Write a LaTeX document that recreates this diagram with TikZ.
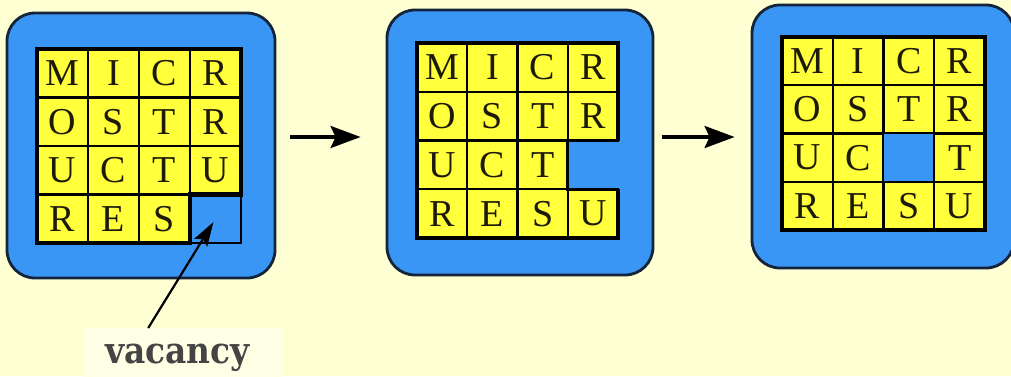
\documentclass[tikz,border=0pt]{standalone}
\usepackage{fontspec}
\newfontfamily\tilefont{Liberation Serif}
\newfontfamily\labelfont{DejaVu Serif Condensed}
\usetikzlibrary{arrows.meta}

\definecolor{paper}{HTML}{FFFFD4}
\definecolor{patch}{HTML}{FFFFE6}
\definecolor{tray}{HTML}{3A96F5}
\definecolor{tileyellow}{HTML}{FFFF3C}
\definecolor{ink}{HTML}{1E1A08}
\definecolor{labelgray}{HTML}{444444}
\definecolor{rim}{HTML}{14243A}

\def\holemark{.}
% #1 name prefix, #2/#3 top-left corner of the grid, #4/#5 cell size, #6 rows
\newcommand\tilegrid[6]{%
  \foreach \tilerow [count=\i from 0] in {#6} {
    \foreach \tileletter [count=\j from 0] in \tilerow {
      \ifx\tileletter\holemark
        \node[hole, minimum width=#4pt, minimum height=#5pt]
          (#1-\i-\j) at ({#2+(\j+0.5)*#4},{#3+(\i+0.5)*#5}) {};
      \else
        \node[tile, minimum width=#4pt, minimum height=#5pt]
          (#1-\i-\j) at ({#2+(\j+0.5)*#4},{#3+(\i+0.5)*#5}) {\tileletter};
      \fi
    }
  }%
}

\begin{document}
\begin{tikzpicture}[x=1pt, y=-1pt,
  trayframe/.style={draw=rim, line width=2.8pt, fill=tray, rounded corners=28pt},
  tile/.style={draw=black, line width=2.2pt, fill=tileyellow, outer sep=0pt,
    inner sep=0pt, text=ink, font=\tilefont\fontsize{38}{38}\selectfont},
  hole/.style={draw=black, line width=1.4pt, fill=tray, outer sep=0pt},
  gridframe/.style={draw=black, line width=4.5pt, line join=miter},
  arr/.style={draw=black, line width=3.5pt, -{Stealth[length=30pt, width=22pt, inset=5pt]}},
  ptr/.style={draw=black, line width=2.2pt, -{Stealth[length=24pt, width=15pt, inset=4pt]}},
  labelbox/.style={fill=patch, text=labelgray, inner xsep=22pt, inner ysep=0pt,
    text height=35pt, text depth=20pt, text width=155pt, align=left,
    font=\labelfont\bfseries\fontsize{36.5}{36.5}\selectfont}]

\useasboundingbox (0,0) rectangle (1011,376);
\clip (0,0) rectangle (1011,376);
\fill[paper] (0,0) rectangle (1011,376);

% trays
\node[trayframe, minimum width=268pt, minimum height=265pt] (p1) at (141,145.5) {};
\node[trayframe, minimum width=266pt, minimum height=265pt] (p2) at (520,142.5) {};
\node[trayframe, minimum width=262pt, minimum height=263pt] (p3) at (883,136.5) {};

% tiles
\tilegrid{A}{37}{49}{51}{48.5}{{M,I,C,R},{O,S,T,R},{U,C,T,U},{R,E,S,.}}
\begin{scope}[hole/.append style={draw=none}]
\tilegrid{B}{417}{43}{50.25}{48.75}{{M,I,C,R},{O,S,T,R},{U,C,T,.},{R,E,S,U}}
\end{scope}
\tilegrid{C}{782}{37}{50.75}{48.25}{{M,I,C,R},{O,S,T,R},{U,C,.,T},{R,E,S,U}}

% heavy outlines around the tiles
\draw[gridframe] (A-0-0.north west) -- (A-0-3.north east) -- (A-2-3.south east)
  -- (A-3-2.north east) -- (A-3-2.south east) -- (A-3-0.south west) -- cycle;
\draw[gridframe] (B-1-3.south east) -- (B-0-3.north east) -- (B-0-0.north west)
  -- (B-3-0.south west) -- (B-3-3.south east) -- (B-3-3.north east);
\draw[line width=3pt] (B-1-3.south east) -- (B-1-2.south east) -- (B-3-2.north east)
  -- (B-3-3.north east);
\draw[gridframe] (C-0-0.north west) -- (C-0-3.north east) -- (C-3-3.south east)
  -- (C-3-0.south west) -- cycle;

% steps
\draw[arr, shorten <=14pt, shorten >=25pt] ([yshift=8.5pt]p1.east) -- ([yshift=5.5pt]p2.west);
\draw[arr, shorten <=8pt, shorten >=16pt] ([yshift=5.5pt]p2.east) -- ([yshift=-0.5pt]p3.west);

% label
\node[labelbox, anchor=north west] (lbl) at (83,328) {vacancy};
\draw[ptr, shorten >=4pt] ([xshift=-34.5pt]lbl.north) -- (A-3-3.center);

\end{tikzpicture}
\end{document}
